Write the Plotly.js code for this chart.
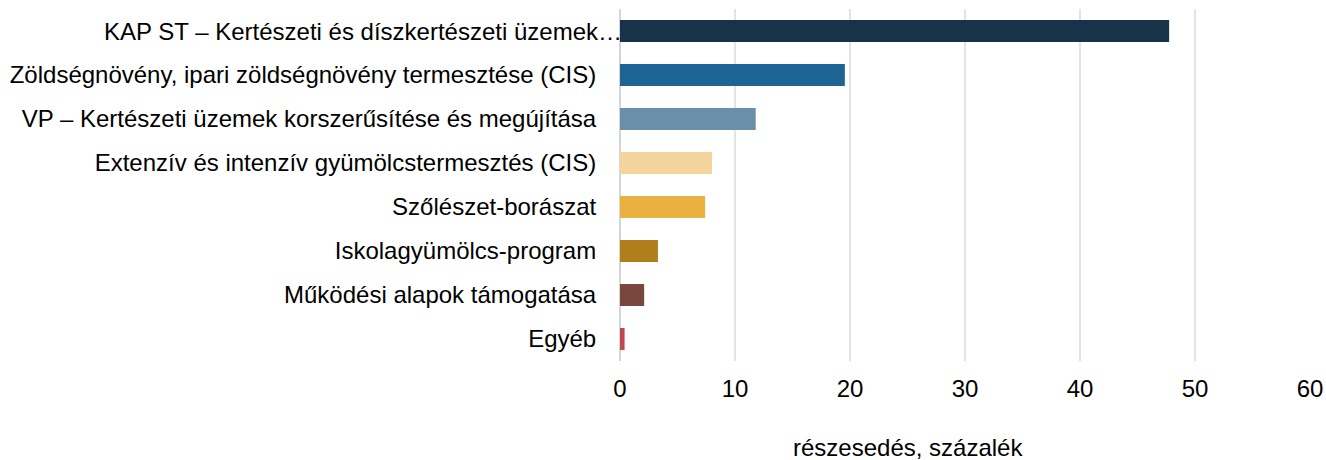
<!DOCTYPE html>
<html>
<head>
<meta charset="utf-8">
<script src="https://cdn.plot.ly/plotly-3.0.1.min.js"></script>
<style>html,body{margin:0;padding:0;background:#fff;}#chart{width:1326px;height:460px;}</style>
</head>
<body>
<div id="chart"></div>
<script>
const categories = [
  "KAP ST – Kertészeti és díszkertészeti üzemek…",
  "Zöldségnövény, ipari zöldségnövény termesztése (CIS)",
  "VP – Kertészeti üzemek korszerűsítése és megújítása",
  "Extenzív és intenzív gyümölcstermesztés (CIS)",
  "Szőlészet-borászat",
  "Iskolagyümölcs-program",
  "Működési alapok támogatása",
  "Egyéb"
];
const values = [47.75, 19.55, 11.8, 8.0, 7.4, 3.3, 2.1, 0.4];
const colors = ["#18324a", "#1d6494", "#6a8fa9", "#f3d49c", "#ebb140", "#b07f1b", "#7a473f", "#c0494f"];
const xTicks = [0, 10, 20, 30, 40, 50, 60];
const xTitle = "részesedés, százalék";

const font = {family: "Liberation Sans, Arial, sans-serif", size: 24, color: "#000"};

// the truncated first label sits further right (its ellipsis touches the bar), so draw it as an annotation
const yTickText = categories.map((c, i) => i === 0 ? "" : c);

Plotly.newPlot("chart", [{
  type: "bar",
  orientation: "h",
  y: categories,
  x: values,
  marker: {color: colors},
  width: 0.5,
  hoverinfo: "x+y"
}], {
  width: 1326, height: 460,
  margin: {l: 620, r: 16, t: 9, b: 99},
  paper_bgcolor: "#fff",
  plot_bgcolor: "#fff",
  font: font,
  showlegend: false,
  xaxis: {
    range: [0, 60],
    tickvals: xTicks,
    ticktext: xTicks.map(String),
    showgrid: true,
    gridcolor: "#e3e3e3",
    gridwidth: 1.5,
    zeroline: true,
    zerolinecolor: "#d6d6d6",
    zerolinewidth: 2,
    showline: false,
    ticks: "outside",
    ticklen: 6,
    tickcolor: "rgba(0,0,0,0)",
    tickfont: font,
    fixedrange: true
  },
  yaxis: {
    type: "category",
    autorange: "reversed",
    tickvals: categories,
    ticktext: yTickText,
    showgrid: false,
    zeroline: false,
    showline: false,
    ticks: "outside",
    ticklen: 18,
    tickcolor: "rgba(0,0,0,0)",
    tickfont: font,
    fixedrange: true
  },
  annotations: [{
    text: xTitle,
    xref: "paper", yref: "paper",
    x: 0.417, y: 0,
    yshift: -86,
    xanchor: "center", yanchor: "middle",
    showarrow: false,
    font: font
  }, {
    text: categories[0],
    xref: "paper", yref: "y",
    x: 0, y: categories[0],
    xshift: 4,
    xanchor: "right", yanchor: "middle",
    showarrow: false,
    font: font
  }]
}, {displayModeBar: false, staticPlot: true});
</script>
</body>
</html>
